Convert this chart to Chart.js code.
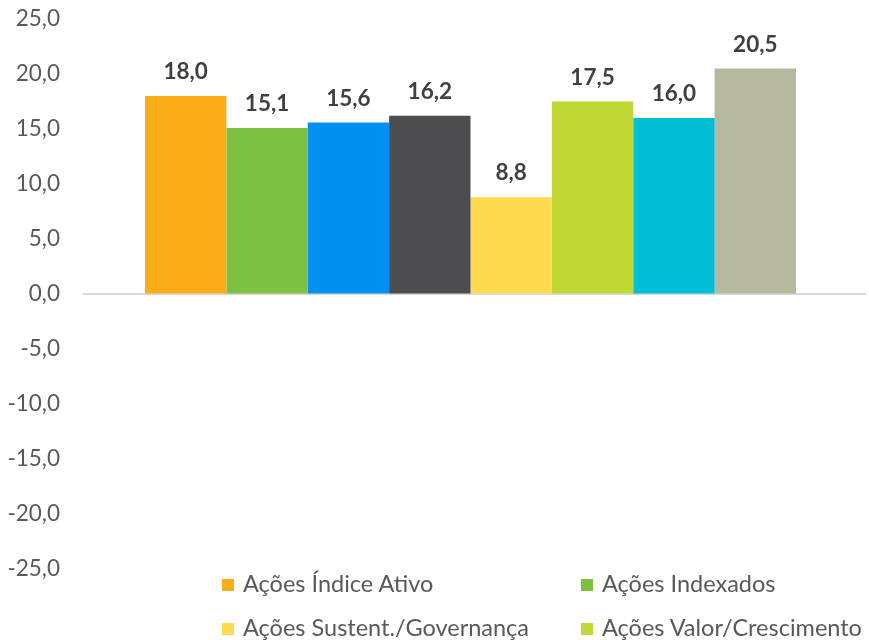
<!DOCTYPE html>
<html>
<head>
<meta charset="utf-8">
<script src="https://cdn.jsdelivr.net/npm/chart.js@4/dist/chart.umd.min.js"></script>
<style>
  html, body { margin: 0; padding: 0; background: #fff; }
  #wrap { position: relative; width: 869px; height: 640px; overflow: hidden; }
  #c { position: absolute; left: 0; top: 0; }
  .lg { position: absolute; font-family: Lato, sans-serif; font-size: 23.5px; color: #595959; white-space: nowrap; line-height: 26px; }
  .lg span.box { display: inline-block; width: 12px; height: 12px; margin-right: 9px; vertical-align: 1px; }
</style>
</head>
<body>
<div id="wrap">
  <canvas id="c" width="869" height="640"></canvas>
  <div id="legend"></div>
</div>
<script>
const categories = [""];
const seriesNames = [
  "Ações Índice Ativo",
  "Ações Indexados",
  "Ações Small Caps",
  "Ações Dividendos",
  "Ações Sustent./Governança",
  "Ações Valor/Crescimento",
  "Ações Livre",
  "Ações Setoriais"
];
const seriesValues = [18.0, 15.1, 15.6, 16.2, 8.8, 17.5, 16.0, 20.5];
const seriesColors = ["#FBAD18", "#7EC142", "#0091F0", "#4D4D4F", "#FEDB50", "#C0D734", "#00BED6", "#B6B99E"];
const yTicks = [-25, -20, -15, -10, -5, 0, 5, 10, 15, 20, 25];
const legendShown = [0, 1, 4, 5];

const fmt = v => v.toFixed(1).replace('.', ',');

const zeroLine = {
  id: 'zeroLine',
  beforeDatasetsDraw(chart) {
    const ctx = chart.ctx;
    const y = chart.scales.y.getPixelForValue(0);
    ctx.save();
    ctx.strokeStyle = '#D9D9D9';
    ctx.lineWidth = 2;
    ctx.beginPath();
    ctx.moveTo(chart.chartArea.left, y);
    ctx.lineTo(chart.width - 3, y);
    ctx.stroke();
    ctx.restore();
  }
};

const valueLabels = {
  id: 'valueLabels',
  afterDatasetsDraw(chart) {
    const ctx = chart.ctx;
    ctx.save();
    ctx.font = 'bold 22.5px Lato, sans-serif';
    ctx.fillStyle = '#404040';
    ctx.textAlign = 'center';
    ctx.textBaseline = 'middle';
    chart.data.datasets.forEach((ds, i) => {
      const meta = chart.getDatasetMeta(i);
      meta.data.forEach((el, j) => {
        ctx.fillText(fmt(ds.data[j]), el.x, el.y - 24);
      });
    });
    ctx.restore();
  }
};

new Chart(document.getElementById('c'), {
  type: 'bar',
  data: {
    labels: categories,
    datasets: seriesNames.map((n, i) => ({
      label: n,
      data: [seriesValues[i]],
      backgroundColor: seriesColors[i],
      borderWidth: 0,
      barPercentage: 1,
      categoryPercentage: 0.840
    }))
  },
  options: {
    responsive: false,
    animation: false,
    layout: { padding: { left: 0, right: 11, top: 19, bottom: 71 } },
    plugins: { legend: { display: false }, tooltip: { enabled: false } },
    scales: {
      x: { display: false },
      y: {
        min: -25, max: 25,
        afterFit(scale) { scale.width = 83; },
        afterBuildTicks(scale) { scale.ticks = yTicks.map(v => ({ value: v })); },
        border: { display: false },
        grid: {
          display: true,
          drawOnChartArea: false,
          drawTicks: true,
          tickLength: 23,
          tickColor: 'rgba(0,0,0,0)',
          color: 'rgba(0,0,0,0)'
        },
        ticks: {
          padding: 0,
          color: '#595959',
          font: { family: 'Lato, sans-serif', size: 22.5 },
          callback: v => fmt(v)
        }
      }
    }
  },
  plugins: [zeroLine, valueLabels]
});

const legendPos = [
  { x: 222, y: 570 }, { x: 581, y: 570 },
  { x: 222, y: 614 }, { x: 581, y: 614 }
];
const lg = document.getElementById('legend');
legendShown.forEach((idx, k) => {
  const d = document.createElement('div');
  d.className = 'lg';
  d.style.left = legendPos[k].x + 'px';
  d.style.top = legendPos[k].y + 'px';
  const b = document.createElement('span');
  b.className = 'box';
  b.style.background = seriesColors[idx];
  d.appendChild(b);
  d.appendChild(document.createTextNode(seriesNames[idx]));
  lg.appendChild(d);
});
</script>
</body>
</html>
